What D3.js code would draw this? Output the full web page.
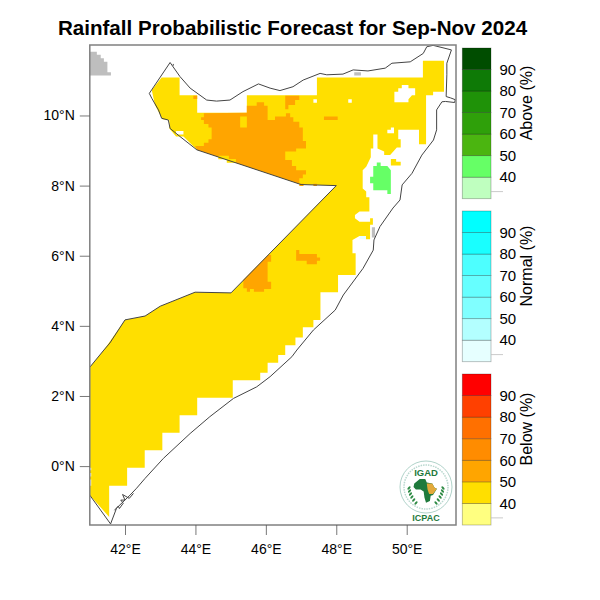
<!DOCTYPE html>
<html>
<head>
    <title>Rainfall Probabilistic Forecast for Sep-Nov 2024</title>
    <script src="https://cdn.jsdelivr.net/npm/d3@7"></script>
    <style type="text/css">
        html, body { margin: 0; padding: 0; background: #fff; }
        svg { display: block; }
        text { font-family: "Liberation Sans", Arial, sans-serif; fill: #000; }
        .domain { display: none; }
    </style>
</head>
<body>
<svg id="chart" width="600" height="600"></svg>
<script type="text/javascript">
    // all rings are [lon, lat]
    var lonTicks = [42, 44, 46, 48, 50];
    var latTicks = [0, 2, 4, 6, 8, 10];
    var levels = [30, 40, 50, 60, 70, 80, 90, 100];
    var levelTicks = [40, 50, 60, 70, 80, 90];

    var aboveColors = ["#BFFFBF", "#66FF66", "#4BB510", "#2FA00A", "#1F9208", "#0E7A06", "#004D00"];
    var normalColors = ["#E6FFFF", "#B3FFFF", "#80FFFF", "#66FFFF", "#4DFFFF", "#19FFFF", "#00FFFF"];
    var belowColors = ["#FFFF80", "#FFDF00", "#FFA500", "#FF8C00", "#FF7000", "#FF4000", "#FF0000"];

    var yellowMain = [
        [43.04,11.08],[43.55,11.08],[43.55,10.58],[44.05,10.58],[44.05,10.08],[45.46,10.08],[45.46,10.58],[47.45,10.58],
        [47.45,11.08],[50.46,11.08],[50.46,11.56],[51.06,11.56],[51.06,10.68],[50.75,10.68],[50.75,10.58],[50.55,10.58],
        [50.55,9.18],[50.35,9.18],[50.35,9.59],[49.76,9.59],[49.76,9.32],[49.83,9.32],[49.83,9.09],[49.72,9.09],
        [49.62,8.97],[49.53,8.87],[49.36,8.87],[49.36,8.97],[49.17,9.06],[49.17,9.46],[49.05,9.46],[49.05,9.06],
        [48.98,9.06],[48.98,8.81],[48.85,8.54],[48.75,8.44],[48.75,7.92],[48.85,7.83],[48.85,7.67],[48.94,7.67],
        [48.94,7.26],[48.66,7.26],[48.53,7.16],[48.53,7.07],[48.66,6.97],[48.96,6.97],[48.96,7.07],[49.04,7.07],
        [49.04,6.88],[48.96,6.88],[48.96,6.47],[48.84,6.47],[48.84,6.56],[48.66,6.56],[48.46,6.45],[48.46,6.07],
        [48.55,6.07],[48.55,5.45],[48.05,5.45],[48.05,4.96],[47.55,4.96],[47.55,4.17],[47.35,4.17],[47.35,3.96],
        [47.05,3.96],[47.05,3.67],[46.84,3.67],[46.84,3.45],[46.55,3.45],[46.55,3.17],[46.35,3.17],[46.35,2.95],
        [46.05,2.95],[46.05,2.66],[45.84,2.66],[45.84,2.45],[45.06,2.45],[45.06,1.95],[44.05,1.95],[44.05,1.45],
        [43.55,1.45],[43.55,0.95],[43.06,0.95],[43.06,0.45],[42.56,0.45],[42.56,-0.05],[42.06,-0.05],[42.06,-0.56],
        [41.55,-0.56],[41.55,-1.45],[41,-0.83],[41,2.82],[41.40,3.31],[42,4.17],[42.57,4.28],[43,4.56],
        [43.99,4.96],[45.01,4.94],[48,8],[47,8.03],[44.04,9.02],[43.66,9.40],[43.45,9.40],[43.26,9.63],
        [43.26,9.87],[43.06,9.89],[42.85,10.30],[42.76,10.73]
    ];
    var yellowIsland = [[49.55,8.76],[49.70,8.76],[49.70,8.68],[49.83,8.68],[49.83,8.57],[49.55,8.57]];

    var whiteBay = [[49.86,10.87],[50.05,10.87],[50.05,10.78],[50.24,10.78],[50.24,10.58],[50.15,10.58],[50.05,10.46],
        [50.05,10.38],[49.65,10.38],[49.65,10.68],[49.76,10.68],[49.76,10.78],[49.86,10.78]];
    var whiteNotch = [[49.45,9.59],[49.55,9.59],[49.55,9.66],[49.64,9.66],[49.64,9.49],[49.45,9.49]];
    var whiteSpotA = [[47.35,10.46],[47.45,10.46],[47.45,10.36],[47.35,10.36]];
    var whiteSpotB = [[48.34,10.46],[48.44,10.46],[48.44,10.36],[48.34,10.36]];
    var whiteSpotC = [[43.45,9.56],[43.66,9.56],[43.66,9.46],[43.45,9.46]];
    var whiteEdgeA = [[41,-0.05],[41.04,-0.05],[41.04,-0.12],[41,-0.12]];
    var whiteEdgeB = [[41,-0.2],[41.04,-0.2],[41.04,-0.3],[41,-0.3]];
    var whiteEdgeC = [[41,-0.38],[41.04,-0.38],[41.04,-0.56],[41,-0.56]];

    var paleSpot = [[48.66,6.56],[48.84,6.56],[48.84,6.47],[48.66,6.47]];

    var orangeMain = [
        [44.24,10.06],[45.46,10.08],[45.46,10.28],[45.74,10.28],[45.74,10.38],[45.95,10.38],[45.95,10.28],[46.05,10.28],
        [46.05,9.87],[46.26,9.87],[46.26,9.97],[46.57,9.97],[46.57,10.06],[46.69,10.06],[46.69,9.95],[46.78,9.95],
        [46.78,9.82],[46.95,9.82],[46.95,9.66],[47.05,9.66],[47.05,9.27],[47.14,9.27],[47.14,9.06],[46.86,9.06],
        [46.86,8.97],[46.55,8.97],[46.55,8.73],[46.74,8.73],[46.74,8.56],[46.86,8.56],[46.86,8.44],[47.14,8.44],
        [47.14,8.32],[47.05,8.32],[47.05,8.21],[46.95,8.21],[46.95,8.05],[44.04,9.02],[43.99,9.13],[44.24,9.13],
        [44.24,9.22],[44.37,9.22],[44.37,9.32],[44.46,9.32],[44.46,9.66],[44.37,9.66],[44.37,9.76],[44.24,9.76],
        [44.24,9.87],[44.16,9.87],[44.16,9.95],[44.24,9.95]
    ];
    var orangeNorth = [[46.55,10.56],[46.95,10.56],[46.95,10.44],[46.83,10.44],[46.83,10.30],[46.64,10.30],[46.64,10.18],[46.55,10.18]];
    var orangeFleck = [[43.94,10.56],[44.05,10.56],[44.05,10.47],[43.94,10.47]];
    var orangeBar = [[47.65,9.97],[48.04,9.97],[48.04,9.87],[47.65,9.87]];
    var orangeBorderA = [[46.95,8.05],[47.07,8.05],[47.07,7.99],[46.95,7.99]];
    var orangeBorderB = [[47.35,8.05],[47.45,8.05],[47.45,7.99],[47.35,7.99]];
    var orangeSouthA = [[46.07,6.02],[46.15,6.02],[46.15,5.83],[46.05,5.83],[46.05,5.26],[46.15,5.26],[46.15,5.05],[45.95,5.05],
        [45.95,4.97],[45.66,4.97],[45.66,5.05],[45.55,5.05],[45.55,4.97],[45.46,4.97],[45.46,5.07],[45.36,5.07],[45.36,5.31],[45.64,5.59]];
    var orangeSouthB = [[46.86,6.16],[46.95,6.16],[46.95,6.05],[47.45,6.05],[47.45,5.95],[47.54,5.95],[47.54,5.86],[47.45,5.86],
        [47.45,5.76],[47.16,5.76],[47.16,5.86],[46.86,5.86]];

    var yellowInOrangeA = [[45.27,9.97],[45.46,9.97],[45.46,9.66],[45.27,9.66]];
    var yellowInOrangeB = [[44.65,8.85],[44.95,8.85],[44.95,8.75],[44.65,8.75]];
    var yellowInOrangeC = [[44.89,8.76],[45.15,8.76],[45.15,8.65],[44.89,8.65]];

    var greenBlob = [[49.15,8.66],[49.26,8.66],[49.26,8.56],[49.45,8.56],[49.55,8.44],[49.55,7.76],[49.45,7.76],[49.45,7.87],
        [49.05,7.87],[49.05,8.07],[48.96,8.07],[48.96,8.25],[49.05,8.25],[49.05,8.56],[49.15,8.56]];

    var grayCorner = [[41,11.82],[41.20,11.82],[41.20,11.73],[41.31,11.73],[41.31,11.63],[41.40,11.63],[41.40,11.53],[41.50,11.53],
        [41.50,11.23],[41.60,11.23],[41.60,11.14],[41,11.14]];
    var grayCoastN = [[48.51,11.23],[48.70,11.23],[48.70,11.14],[48.51,11.14]];
    var grayCoastE = [[49.01,6.81],[49.10,6.81],[49.10,6.52],[49.01,6.52]];

    var borderLine = [
        [41,2.82],[41.40,3.31],[41.57,3.51],[42,4.17],[42.57,4.28],[43,4.56],[43.99,4.96],[45.01,4.94],[48,8],[47,8.03],
        [44.04,9.02],[43.56,9.40],[43.28,9.63],[43.23,9.87],[43.04,9.92],[42.95,10.16],[42.76,10.49],[42.69,10.63],[43.28,11.51],
        [43.56,11.11],[43.85,10.78],[44.32,10.44],[44.60,10.41],[44.98,10.44],[45.35,10.68],[45.79,10.90],[46.12,10.78],[46.40,10.71],
        [46.77,10.82],[47.06,11.01],[47.54,11.20],[47.73,11.16],[48.19,11.18],[48.48,11.30],[48.90,11.27],[49.39,11.35],[49.58,11.49],
        [50.10,11.53],[50.47,11.77],[50.57,11.96],[50.75,12],[51.27,11.87],[51.14,11.49],[51.14,11.16],[51.12,10.54],[51.25,10.50],
        [51.38,10.45],[51.36,10.37],[51.10,10.40],[51,10.39],[50.85,10.16],[50.85,9.59],[50.76,9.30],[50.43,8.87],[50.15,8.35],
        [49.87,8.02],[49.81,7.59],[49.61,7.36],[49.24,6.83],[49.07,6.45],[49.05,6.16],[48.76,5.64],[48.20,4.88],[47.97,4.45],
        [47.35,3.88],[46.88,3.31],[46.74,3.12],[46.12,2.55],[45.74,2.26],[45.08,1.93],[44.41,1.41],[43.85,0.93],[43.09,0.22],
        [42.57,-0.35],[42.33,-0.63],[42.14,-0.83],[41.76,-1.20],[41.59,-1.65],[41,-0.83]
    ];
    var bajuniIslands = [[41.70,-1.26],[41.81,-1.14],[41.84,-1.21],[41.95,-1.06],[41.88,-0.97],[42,-0.97],[41.93,-0.81],[42.12,-0.92],[42.24,-0.78]];
    var northIslet = [[43.37,11.47],[43.37,11.42]];

    var logoAfrica = [[-15,-8],[-8,-13],[-1,-13],[1,-9],[8,-8],[11,-3],[14,-2],[9,5],[6,6],[5,12],[0,14],[-2,8],[-3,1],[-7,-1],[-13,-1],[-16,-4]];
    var logoHorn = [[1,-8],[8,-8],[11,-3],[14,-2],[9,4],[4,4],[2,-1]];

    var svg = d3.select("#chart");

    var x = d3.scaleLinear().domain([41, 51.4]).range([89.8, 456]);
    var y = d3.scaleLinear().domain([-1.68, 12.01]).range([525, 45]);

    svg.append("clipPath").attr("id", "frame")
        .append("rect")
        .attr("x", x(41)).attr("y", y(12.01))
        .attr("width", x(51.4) - x(41)).attr("height", y(-1.68) - y(12.01));

    var geo = d3.line().x(function (d) { return x(d[0]); }).y(function (d) { return y(d[1]); });
    var ring = function (d) { return geo(d) + "Z"; };

    var map = svg.append("g").attr("clip-path", "url(#frame)");

    var layers = [
        {color: "#FFDF00", rings: [yellowMain, yellowIsland]},
        {color: "#FFFFFF", rings: [whiteBay, whiteNotch, whiteSpotA, whiteSpotB, whiteSpotC, whiteEdgeA, whiteEdgeB, whiteEdgeC]},
        {color: "#E6FFFF", rings: [paleSpot]},
        {color: "#FFA500", rings: [orangeMain, orangeNorth, orangeFleck, orangeBar, orangeBorderA, orangeBorderB, orangeSouthA, orangeSouthB]},
        {color: "#FFDF00", rings: [yellowInOrangeA, yellowInOrangeB, yellowInOrangeC]},
        {color: "#66FF66", rings: [greenBlob]},
        {color: "#BEBEBE", rings: [grayCorner, grayCoastN, grayCoastE]}
    ];

    layers.forEach(function (layer) {
        map.append("g").selectAll("path").data(layer.rings).enter().append("path")
            .attr("d", ring)
            .attr("fill", layer.color);
    });

    map.selectAll("path.coast").data([borderLine, bajuniIslands, northIslet]).enter().append("path")
        .attr("class", "coast")
        .attr("d", geo)
        .attr("fill", "none")
        .attr("stroke", "#444")
        .attr("stroke-width", 1);

    // frame and axes
    svg.append("rect")
        .attr("x", x(41)).attr("y", y(12.01))
        .attr("width", x(51.4) - x(41)).attr("height", y(-1.68) - y(12.01))
        .attr("fill", "none").attr("stroke", "#808080").attr("stroke-width", 1.5);

    var xAxis = d3.axisBottom(x).tickValues(lonTicks).tickSize(10).tickPadding(9)
        .tickFormat(function (d) { return d + "°E"; });
    var yAxis = d3.axisLeft(y).tickValues(latTicks).tickSize(10).tickPadding(5)
        .tickFormat(function (d) { return d + "°N"; });

    svg.append("g").attr("transform", "translate(0," + y(-1.68) + ")").call(xAxis);
    svg.append("g").attr("transform", "translate(" + x(41) + ",0)").call(yAxis);
    svg.selectAll(".tick line").attr("stroke", "#555").attr("stroke-width", 0.8);
    svg.selectAll(".tick text").attr("font-size", 14).attr("font-family", '"Liberation Sans", Arial, sans-serif').attr("fill", "#000");

    svg.append("text")
        .attr("x", 292.5).attr("y", 35)
        .attr("text-anchor", "middle")
        .attr("font-size", 20.6)
        .attr("font-weight", "bold")
        .text("Rainfall Probabilistic Forecast for Sep-Nov 2024");

    // colour bars
    function colorBar(colors, label, top, bottom, titleY) {
        var v = d3.scaleLinear().domain([30, 100]).range([bottom, top]);
        var g = svg.append("g");

        g.selectAll("rect").data(colors).enter().append("rect")
            .attr("x", 462.3).attr("width", 28.7)
            .attr("y", function (d, i) { return v(levels[i + 1]); })
            .attr("height", function (d, i) { return v(levels[i]) - v(levels[i + 1]); })
            .attr("fill", function (d) { return d; })
            .attr("stroke", "rgba(0,0,0,0.3)")
            .attr("stroke-width", 0.8);

        var axis = d3.axisRight(v).tickValues(levelTicks).tickSize(0).tickPadding(8.5);
        var ag = g.append("g").attr("transform", "translate(491,0)").call(axis);
        ag.selectAll("text").attr("font-size", 15).attr("font-family", '"Liberation Sans", Arial, sans-serif').attr("fill", "#000");

        g.append("line")
            .attr("x1", 491).attr("x2", 503)
            .attr("y1", v(33.3)).attr("y2", v(33.3))
            .attr("stroke", "#bbb").attr("stroke-width", 0.8);

        g.append("text")
            .attr("transform", "translate(532," + titleY + ") rotate(-90)")
            .attr("text-anchor", "middle")
            .attr("font-size", 16)
            .text(label);
    }

    colorBar(aboveColors, "Above (%)", 48, 198.7, 103);
    colorBar(normalColors, "Normal (%)", 211, 361.7, 266);
    colorBar(belowColors, "Below (%)", 374, 525, 429);

    // IGAD / ICPAC logo
    var logo = svg.append("g").attr("transform", "translate(426,487)");
    logo.append("circle").attr("r", 26).attr("fill", "#fff").attr("stroke", "#9cc7bb").attr("stroke-width", 0.8);
    logo.append("circle").attr("r", 22).attr("fill", "none").attr("stroke", "#b9d8cf").attr("stroke-width", 1.5).attr("stroke-dasharray", "1.5 1");
    var outline = d3.line().curve(d3.curveLinearClosed);
    var africa = logo.append("g").attr("transform", "translate(0,3.5) scale(0.78,0.88)");
    africa.append("path").attr("d", outline(logoAfrica)).attr("fill", "#1f7a3c");
    africa.append("path").attr("d", outline(logoHorn)).attr("fill", "#e3a93a");
    [-1, 1].forEach(function (side) {
        logo.selectAll(null).data(d3.range(0, 6)).enter().append("ellipse")
            .attr("cx", function (i) { return side * (17 - i * 0.3 - i * i * 0.22); })
            .attr("cy", function (i) { return 1 + i * 3; })
            .attr("rx", 2).attr("ry", 1)
            .attr("transform", function (i) {
                var cx = side * (17 - i * 0.3 - i * i * 0.22), cy = 1 + i * 3;
                return "rotate(" + (side * 45) + " " + cx + " " + cy + ")";
            })
            .attr("fill", "#2e8b45");
    });
    logo.append("text").attr("x", 0).attr("y", -11).attr("text-anchor", "middle")
        .attr("font-size", 9.5).attr("font-weight", "bold").style("fill", "#1f7a3c").text("IGAD");
    logo.append("text").attr("x", 0).attr("y", 34).attr("text-anchor", "middle")
        .attr("font-size", 9).attr("font-weight", "bold").style("fill", "#1f7a3c").text("ICPAC");
</script>
</body>
</html>
